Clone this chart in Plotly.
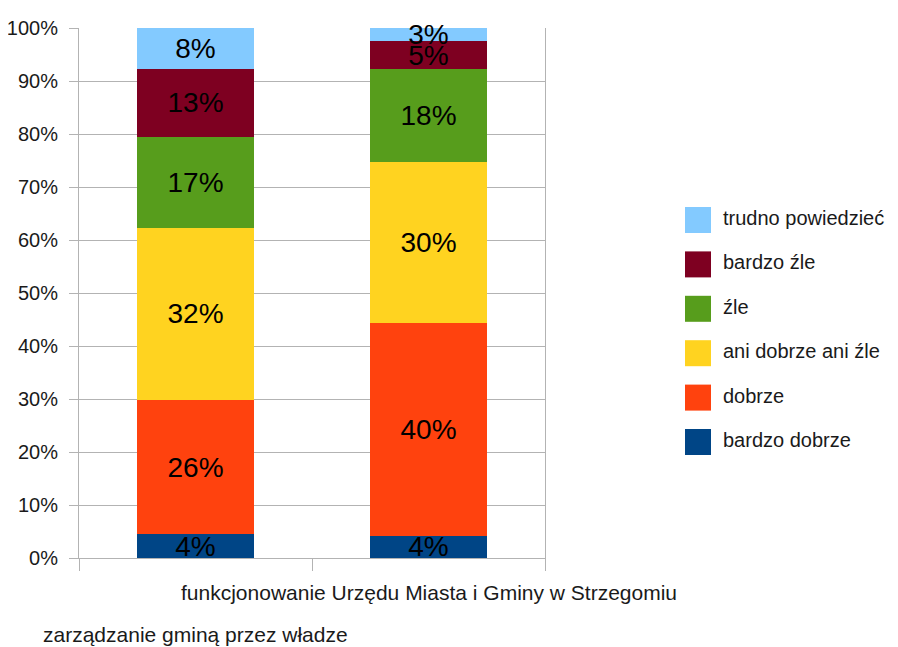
import plotly.graph_objects as go

# categories (x) and answer options (stack order, bottom to top)
categories = [
    "zarządzanie gminą przez władze",
    "funkcjonowanie Urzędu Miasta i Gminy w Strzegomiu",
]
answers = ["bardzo dobrze", "dobrze", "ani dobrze ani źle", "źle", "bardzo źle", "trudno powiedzieć"]
colors = ["#004586", "#FF420E", "#FFD320", "#579D1C", "#7E0021", "#83CAFF"]

# share of answers (%), one list per category
zarzadzanie = [4.5, 25.3, 32.5, 17.1, 12.9, 7.7]
funkcjonowanie = [4.2, 40.1, 30.4, 17.6, 5.2, 2.5]
labels_zarzadzanie = ["4%", "26%", "32%", "17%", "13%", "8%"]
labels_funkcjonowanie = ["4%", "40%", "30%", "18%", "5%", "3%"]
y_ticks = list(range(0, 101, 10))

# the page body adds an 8px margin, so the figure is a bit smaller than the window
OFF = 8
W, H = 898 - OFF, 647 - OFF
FONT = "Liberation Sans, Arial, sans-serif"
GRID = "#b3b3b3"


def px_x(x):
    return (x - OFF) / W


def px_y(y):
    return 1 - (y - OFF) / H


fig = go.Figure()

for i, name in enumerate(answers):
    fig.add_trace(
        go.Bar(
            x=categories,
            y=[zarzadzanie[i], funkcjonowanie[i]],
            name=name,
            marker=dict(color=colors[i], line=dict(width=0)),
            width=0.506,
            text=[labels_zarzadzanie[i], labels_funkcjonowanie[i]],
            textposition="inside",
            insidetextanchor="middle",
            constraintext="none",
            textangle=0,
            textfont=dict(family=FONT, size=28, color="black"),
            cliponaxis=False,
            showlegend=False,
        )
    )

# hand-drawn legend so swatches get the size of the original
shapes = []
annotations = []
for i, name in enumerate(reversed(answers)):
    color = list(reversed(colors))[i]
    cy = 220 + i * 44.4
    shapes.append(dict(
        type="rect", xref="paper", yref="paper",
        x0=px_x(685), x1=px_x(711), y0=px_y(cy + 13), y1=px_y(cy - 13),
        fillcolor=color, line=dict(width=0),
    ))
    annotations.append(dict(
        text=name, xref="paper", yref="paper",
        x=px_x(721), y=px_y(cy - 2), xanchor="left", yanchor="middle",
        showarrow=False, font=dict(family=FONT, size=20, color="#1a1a1a"),
    ))

# staggered category labels
label_rows = [634, 592]
for cat, row in zip(categories, label_rows):
    annotations.append(dict(
        text=cat, xref="x", yref="paper", x=cat, y=px_y(row),
        xanchor="center", yanchor="middle", showarrow=False,
        font=dict(family=FONT, size=21, color="#1a1a1a"),
    ))

fig.update_layout(
    barmode="stack",
    width=W,
    height=H,
    margin=dict(l=0, r=0, t=0, b=0),
    paper_bgcolor="white",
    plot_bgcolor="white",
    font=dict(family=FONT, size=20, color="#1a1a1a"),
    shapes=shapes,
    annotations=annotations,
    xaxis=dict(
        domain=[px_x(79), px_x(545)],
        range=[-0.5, 1.5],
        automargin=False,
        showticklabels=False,
        ticks="outside",
        tickson="boundaries",
        ticklen=12,
        tickcolor=GRID,
        showline=True,
        linecolor=GRID,
        showgrid=False,
    ),
    yaxis=dict(
        domain=[px_y(558), px_y(28)],
        range=[0, 100.001],
        automargin=False,
        tickmode="array",
        tickvals=y_ticks,
        ticktext=[f"{v}%" for v in y_ticks],
        ticks="outside",
        ticklen=9,
        tickcolor=GRID,
        ticklabelstandoff=7,
        showgrid=True,
        gridcolor=GRID,
        showline=True,
        linecolor=GRID,
        mirror=True,
        zeroline=False,
        tickfont=dict(family=FONT, size=20, color="#1a1a1a"),
    ),
)

fig.write_html("out.html")
